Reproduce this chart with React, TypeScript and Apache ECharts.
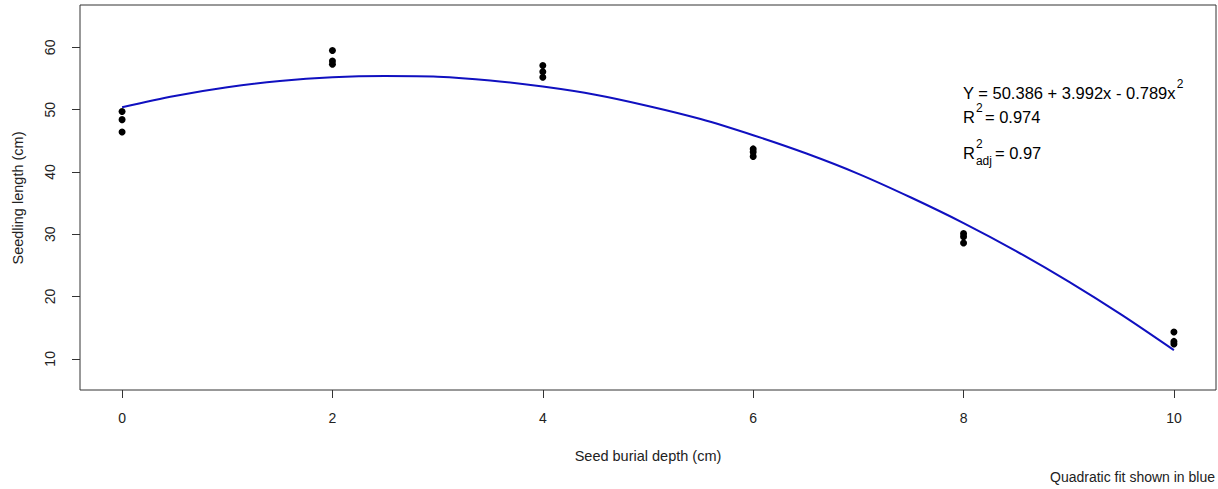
import React, { useEffect, useRef } from "react";
import * as echarts from "echarts";

const pointDepth = [0, 0, 0, 2, 2, 2, 4, 4, 4, 6, 6, 6, 8, 8, 8, 10, 10, 10];
const pointLength = [49.7, 48.4, 46.4, 59.5, 57.8, 57.3, 57.1, 56.1, 55.2, 43.7, 43.2, 42.5, 30.1, 29.6, 28.6, 14.3, 12.8, 12.4];

const fitDepth = [0, 0.5, 1, 1.5, 2, 2.5, 3, 3.5, 4, 4.5, 5, 5.5, 6, 6.5, 7, 7.5, 8, 8.5, 9, 9.5, 10];
const fitLength = [50.4, 52.2, 53.6, 54.6, 55.2, 55.4, 55.3, 54.7, 53.7, 52.4, 50.6, 48.5, 45.9, 43.0, 39.7, 35.9, 31.8, 27.3, 22.4, 17.1, 11.4];

const xTicks = [0, 2, 4, 6, 8, 10];
const yTicks = [10, 20, 30, 40, 50, 60];

const eqLine1 = "Y = 50.386 + 3.992x - 0.789x";
const eqLine2 = "= 0.974";
const eqLine3 = "= 0.97";

const FONT = "'Liberation Sans', Arial, sans-serif";

function measure(text: string, size: number): number {
  const c = document.createElement("canvas").getContext("2d");
  if (!c) return text.length * size * 0.55;
  c.font = `${size}px 'Liberation Sans', Arial, sans-serif`;
  return c.measureText(text).width;
}

export default function App() {
  const ref = useRef<HTMLDivElement>(null);
  useEffect(() => {
    document.body.style.margin = "0";
    if (!ref.current) return;
    const chart = echarts.init(ref.current, undefined, { renderer: "svg" });
    const eqX = 963;
    const big = 16.5;
    const small = 12;
    const w1 = measure(eqLine1, big);
    const wR = measure("R", big);
    const wAdj = measure("adj", small);
    const txt = (text: string, x: number, y: number, size: number, extra: any = {}, rot = 0) => ({
      type: "text",
      x,
      y,
      rotation: rot,
      style: { text, fill: "#000", font: `${size}px ${FONT}`, textVerticalAlign: "middle", ...extra },
    });
    chart.setOption({
      animation: false,
      backgroundColor: "#fff",
      grid: { left: 80, right: 2, top: 5, bottom: 99, show: true, borderColor: "#333", borderWidth: 1, backgroundColor: "transparent" },
      xAxis: {
        type: "value",
        min: -0.4,
        max: 10.4,
        axisLine: { show: false, onZero: false },
        splitLine: { show: false },
        axisTick: { show: true, length: 8, inside: false, lineStyle: { color: "#333" }, customValues: xTicks },
        axisLabel: { customValues: xTicks, margin: 21, color: "#222", fontSize: 14, fontFamily: FONT },
      },
      yAxis: {
        type: "value",
        min: 5.0,
        max: 66.8,
        axisLine: { show: false, onZero: false },
        splitLine: { show: false },
        axisTick: { show: true, length: 8, inside: false, lineStyle: { color: "#333" }, customValues: yTicks },
        axisLabel: { customValues: yTicks, rotate: 90, margin: 23, color: "#222", fontSize: 14, fontFamily: FONT },
      },
      series: [
        {
          type: "line",
          data: fitDepth.map((x, i) => [x, fitLength[i]]),
          smooth: 0.3,
          showSymbol: false,
          lineStyle: { color: "#1010c0", width: 2 },
          z: 2,
        },
        {
          type: "scatter",
          data: pointDepth.map((x, i) => [x, pointLength[i]]),
          symbol: "circle",
          symbolSize: 7,
          itemStyle: { color: "#000", opacity: 1 },
          z: 3,
        },
      ],
      graphic: [
        txt("Seedling length (cm)", 18, 198, 14.5, { textAlign: "center", fill: "#222" }, Math.PI / 2),
        txt("Seed burial depth (cm)", 648, 456, 14.5, { textAlign: "center", fill: "#222" }),
        txt("Quadratic fit shown in blue", 1215, 477, 14, { textAlign: "right", fill: "#222" }),
        txt(eqLine1, eqX, 93, big),
        txt("2", eqX + w1 + 1, 84, small),
        txt("R", eqX, 117, big),
        txt("2", eqX + wR + 1, 108, small),
        txt(eqLine2, eqX + wR + 10, 117, big),
        txt("R", eqX, 153, big),
        txt("2", eqX + wR + 1, 144, small),
        txt("adj", eqX + wR + 1, 161, small),
        txt(eqLine3, eqX + wR + wAdj + 4, 153, big),
      ],
    });
    return () => chart.dispose();
  }, []);
  return <div ref={ref} style={{ width: 1218, height: 489 }} />;
}
